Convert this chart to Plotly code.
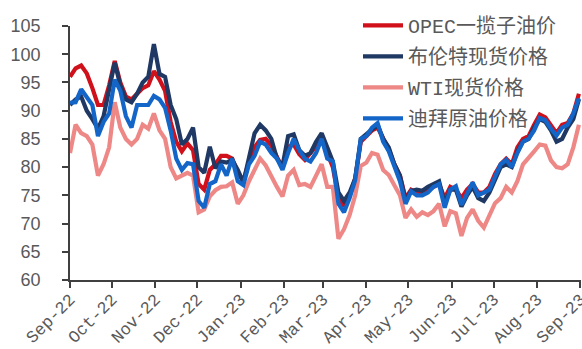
import pandas as pd
import plotly.graph_objects as go

# Observation dates: every 4 days from 2022-09-01
dates = pd.date_range("2022-09-01", periods=92, freq="4D")

opec = [
    96.0, 97.5, 98.0, 96.6, 94.0, 91.0, 91.0, 94.5, 98.8, 95.0,
    92.5, 92.0, 93.0, 94.0, 94.5, 97.0, 95.5, 93.5, 88.0, 84.5,
    82.8, 84.2, 83.0, 77.0, 76.0, 79.5, 80.5, 82.0, 82.0, 81.5,
    79.0, 77.5, 81.0, 83.5, 84.8, 85.0, 83.8, 81.8, 79.8, 83.6,
    84.0, 82.3, 81.3, 82.5, 83.8, 84.8, 82.5, 80.0, 74.5, 73.0,
    75.0, 78.0, 84.5, 85.5, 86.5, 87.0, 85.0, 83.2, 80.5, 78.5,
    74.5, 76.0, 75.5, 75.3, 76.0, 76.5, 77.0, 74.5, 76.5, 76.0,
    74.5, 76.0, 77.0, 75.5, 75.5, 76.5, 78.8, 80.5, 81.5, 80.5,
    83.5, 85.0, 85.5, 87.5, 89.3, 88.8, 87.5, 86.0, 87.5, 87.8,
    89.5, 93.0,
]

brent = [
    91.0, 92.0, 92.5, 90.0, 88.5, 86.8, 89.0, 94.0, 98.5, 94.5,
    92.0, 91.5, 93.0, 95.0, 96.0, 101.8, 96.5, 96.0, 91.0, 88.5,
    84.0, 85.0, 87.0, 80.0, 79.0, 83.6, 79.8, 81.0, 80.8, 81.3,
    79.5, 77.3, 81.5, 86.0, 87.5, 86.5, 85.0, 81.5, 80.2, 85.5,
    85.8, 83.0, 82.0, 82.5, 84.5, 86.0, 83.5, 81.0, 75.5, 74.0,
    75.5, 78.0, 85.0, 85.8, 86.8, 87.5, 85.0, 83.5, 80.5, 78.5,
    74.0, 75.8, 76.0, 75.8, 76.5, 77.0, 77.5, 73.5, 76.0, 76.0,
    73.0, 75.0, 76.5, 74.5, 74.0, 75.5, 78.0, 80.0, 80.5, 80.0,
    82.8, 84.5, 85.0, 87.0, 88.5, 88.0, 86.5, 84.5, 85.0, 87.0,
    88.5, 92.0,
]

wti = [
    82.5, 87.5, 86.0, 85.5, 84.0, 78.5, 80.5, 83.5, 91.5, 87.0,
    85.0, 84.0, 85.0, 87.5, 86.8, 89.5, 86.5, 85.0, 80.0, 78.0,
    78.5, 79.0, 78.5, 72.0, 72.5, 74.8, 75.9, 76.5, 76.6, 77.3,
    73.5, 75.0, 77.5, 79.5, 81.5, 80.3, 78.3, 76.5, 74.8, 78.5,
    79.5, 76.8, 77.0, 76.5, 78.5, 80.5, 76.5, 76.5, 67.3, 69.0,
    71.5, 75.0, 80.2, 80.8, 82.5, 82.2, 79.5, 78.6, 76.8, 75.0,
    71.0, 72.5, 71.2, 72.0, 71.5, 72.2, 73.5, 69.5, 72.2, 71.8,
    67.8, 71.0, 72.5, 70.5, 69.3, 71.5, 73.6, 74.5, 76.5, 75.5,
    77.5, 80.5, 81.8, 82.8, 84.0, 83.8, 81.2, 80.0, 79.8, 80.5,
    83.5, 87.5,
]

dubai = [
    91.4, 91.5, 93.8, 92.5, 91.0, 85.5, 88.0, 89.5, 95.5, 93.5,
    89.0, 87.0, 91.0, 91.0, 91.0, 92.6, 92.0, 90.5, 86.5, 81.5,
    79.5, 80.7, 80.5, 74.0, 72.8, 77.0, 77.5, 80.5, 78.5, 81.5,
    77.5, 76.8, 80.5, 82.0, 84.5, 84.0, 82.5, 81.5, 79.5, 82.5,
    85.0, 83.0, 81.5, 81.0, 82.5, 85.0, 81.5, 81.0, 73.5, 72.0,
    74.5, 77.7, 85.0, 85.5, 87.0, 87.8, 84.5, 82.8, 80.2, 77.5,
    73.5, 75.7, 75.0, 75.0, 75.5, 76.5, 77.0, 72.8, 76.0, 76.6,
    73.3, 75.4, 77.3, 75.0, 75.5, 76.0, 78.3, 80.5, 81.3, 80.0,
    82.5, 84.5, 85.0, 86.5, 88.7, 88.3, 86.8, 85.6, 87.0, 87.5,
    89.5, 92.2,
]

series = [
    ("OPEC一揽子油价", opec, "#D0101B"),
    ("布伦特现货价格", brent, "#1F3864"),
    ("WTI现货价格", wti, "#EE8886"),
    ("迪拜原油价格", dubai, "#1366C8"),
]

month_ticks = pd.date_range("2022-09-01", "2023-09-01", freq="MS")
y_ticks = list(range(60, 106, 5))

fig = go.Figure()
for i, (name, vals, color) in enumerate(series):
    fig.add_trace(go.Scatter(
        x=dates, y=vals, name=name, mode="lines",
        line=dict(color=color, width=4.2),
        legendgroup=f"g{i}",
    ))

axis_color = "#404040"
x_end = month_ticks[-1] + pd.Timedelta(hours=12)

fig.update_layout(
    width=582, height=349,
    margin=dict(l=70, r=1, t=26, b=69),
    paper_bgcolor="white", plot_bgcolor="white",
    showlegend=True,
    legend=dict(
        x=0.5636, y=1.079, xanchor="left", yanchor="top",
        bgcolor="rgba(0,0,0,0)",
        font=dict(family="Liberation Mono, Noto Sans CJK SC", size=20, color="#595959"),
        tracegroupgap=2,
        itemwidth=40,
    ),
    xaxis=dict(
        range=[month_ticks[0], x_end],
        tickvals=month_ticks, tickformat="%b-%y",
        tickangle=-45,
        tickfont=dict(family="Liberation Mono, DejaVu Sans Mono", size=17, color="#595959"),
        ticklabeloverflow="allow",
        ticklabelstandoff=-5,
        showgrid=False, zeroline=False,
        showline=True, linecolor=axis_color, linewidth=1.5,
        ticks="outside", ticklen=6, tickcolor=axis_color, tickwidth=1.5,
        automargin=False,
    ),
    yaxis=dict(
        range=[60, 105], tickvals=y_ticks,
        tickfont=dict(family="Liberation Sans, Arial", size=18, color="#595959"),
        showgrid=False, zeroline=False,
        showline=True, linecolor=axis_color, linewidth=1.5,
        ticks="outside", ticklen=6, tickcolor=axis_color, tickwidth=1.5,
        ticklabelstandoff=18,
        automargin=False,
    ),
)

fig.write_html("out.html")
